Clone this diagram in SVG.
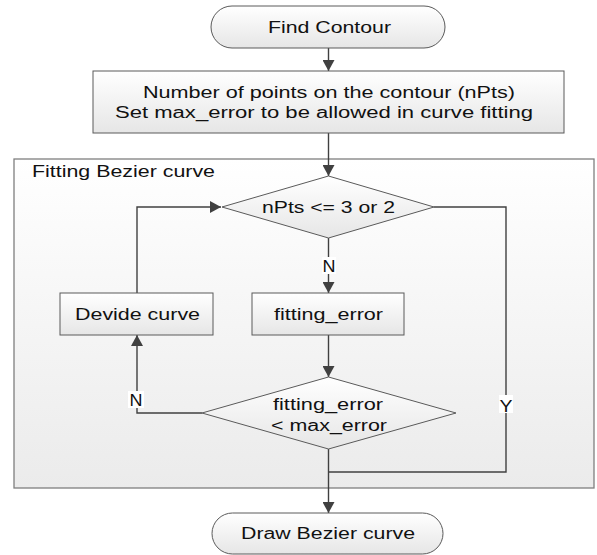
<svg xmlns="http://www.w3.org/2000/svg" width="597" height="555" viewBox="0 0 597 555">
  <defs>
    <linearGradient id="nodeFill" x1="0" y1="0" x2="0" y2="1">
      <stop offset="0" stop-color="#ffffff"/>
      <stop offset="1" stop-color="#e6e6e6"/>
    </linearGradient>
    <linearGradient id="groupFill" x1="0" y1="0" x2="0" y2="1">
      <stop offset="0" stop-color="#ffffff"/>
      <stop offset="1" stop-color="#ebebeb"/>
    </linearGradient>
    <marker id="arrow" markerWidth="12" markerHeight="12" refX="11" refY="6" orient="auto" markerUnits="userSpaceOnUse">
      <path d="M0,0 L11,6 L0,12 Z" fill="#404040"/>
    </marker>
    <style>
      .node { fill: url(#nodeFill); stroke: #5a5a5a; stroke-width: 1; }
      .group { fill: url(#groupFill); stroke: #7f7f7f; stroke-width: 1.3; }
      .edge { fill: none; stroke: #404040; stroke-width: 1.4; }
      .lbl { font-family: "Liberation Sans", Arial, sans-serif; font-size: 16px; fill: #111; text-anchor: middle; }
      .bg { fill: #ffffff; }
    </style>
  </defs>

  <!-- container: curve fitting loop -->
  <g id="fitting-group">
    <rect class="group" x="14" y="159" width="580" height="329"/>
    <text class="lbl" x="32" y="177" style="text-anchor:start" textLength="183" lengthAdjust="spacingAndGlyphs">Fitting Bezier curve</text>
  </g>

  <!-- connectors -->
  <g id="connectors">
    <path class="edge" d="M328.5,48 V71" marker-end="url(#arrow)"/>
    <path class="edge" d="M328.5,133 V176" marker-end="url(#arrow)"/>
    <path class="edge" d="M328.5,238 V293" marker-end="url(#arrow)"/>
    <path class="edge" d="M328.5,335 V377" marker-end="url(#arrow)"/>
    <path class="edge" d="M202,413 H137 V335" marker-end="url(#arrow)"/>
    <path class="edge" d="M137,293 V207 H221" marker-end="url(#arrow)"/>
    <path class="edge" d="M434,207 H506 V472 H328.5"/>
    <path class="edge" d="M328.5,449 V513" marker-end="url(#arrow)"/>
    <!-- edge labels -->
    <rect class="bg" x="322" y="257" width="14" height="17"/>
    <text class="lbl" x="329" y="272" textLength="13" lengthAdjust="spacingAndGlyphs">N</text>
    <rect class="bg" x="128" y="391" width="16" height="17"/>
    <text class="lbl" x="136" y="406" textLength="13" lengthAdjust="spacingAndGlyphs">N</text>
    <rect class="bg" x="499" y="395" width="14" height="18"/>
    <text class="lbl" x="506" y="412" textLength="13" lengthAdjust="spacingAndGlyphs">Y</text>
  </g>

  <g id="find-contour">
    <rect class="node" x="211" y="6" width="234" height="42" rx="21" ry="21"/>
    <text class="lbl" x="329.5" y="33" textLength="123" lengthAdjust="spacingAndGlyphs">Find Contour</text>
  </g>

  <g id="setup">
    <rect class="node" x="93" y="71" width="471" height="62"/>
    <text class="lbl" x="329" y="97.5" textLength="372" lengthAdjust="spacingAndGlyphs">Number of points on the contour (nPts)</text>
    <text class="lbl" x="324" y="117.5" textLength="418" lengthAdjust="spacingAndGlyphs">Set max_error to be allowed in curve fitting</text>
  </g>

  <g id="check-npts">
    <polygon class="node" points="328.5,176 434,207 328.5,238 222,207"/>
    <text class="lbl" x="328.5" y="213" textLength="133" lengthAdjust="spacingAndGlyphs">nPts &lt;= 3 or 2</text>
  </g>

  <g id="devide-curve">
    <rect class="node" x="60" y="293" width="153" height="42"/>
    <text class="lbl" x="137.5" y="320" textLength="125" lengthAdjust="spacingAndGlyphs">Devide curve</text>
  </g>

  <g id="fitting-error">
    <rect class="node" x="252" y="293" width="152" height="42"/>
    <text class="lbl" x="328.5" y="320" textLength="109" lengthAdjust="spacingAndGlyphs">fitting_error</text>
  </g>

  <g id="check-error">
    <polygon class="node" points="328.5,377 456,413 328.5,449 202,413"/>
    <text class="lbl" x="328" y="410" textLength="110" lengthAdjust="spacingAndGlyphs">fitting_error</text>
    <text class="lbl" x="329" y="431" textLength="116" lengthAdjust="spacingAndGlyphs">&lt; max_error</text>
  </g>

  <g id="draw-bezier">
    <rect class="node" x="212" y="513" width="231" height="41" rx="20.5" ry="20.5"/>
    <text class="lbl" x="328" y="539" textLength="174" lengthAdjust="spacingAndGlyphs">Draw Bezier curve</text>
  </g>
</svg>
